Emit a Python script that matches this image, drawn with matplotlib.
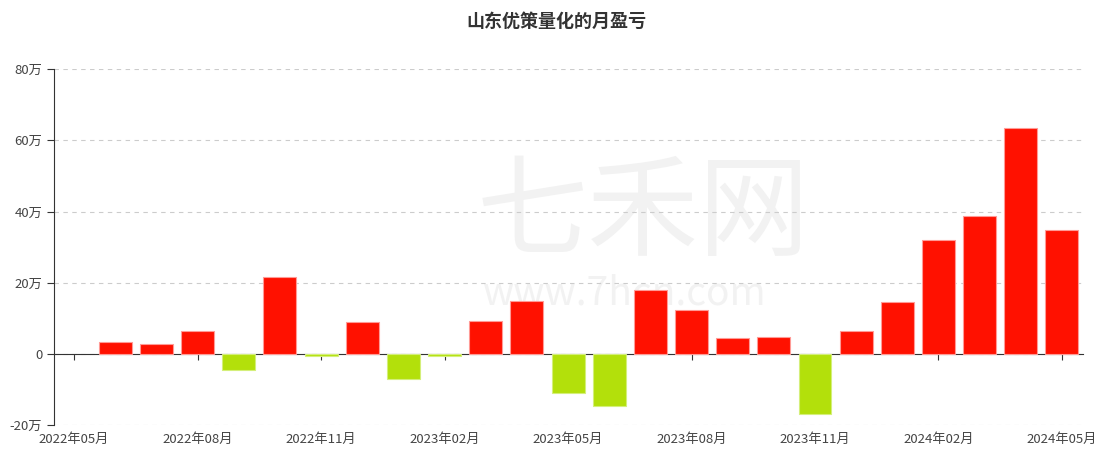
import matplotlib
matplotlib.use("Agg")
import matplotlib.pyplot as plt
import matplotlib.transforms as mtransforms

plt.rcParams['font.family'] = ['Noto Sans CJK SC', 'DejaVu Sans']

# 月份 (2022-05 .. 2024-05)
months = ["2022年05月", "2022年06月", "2022年07月", "2022年08月", "2022年09月",
          "2022年10月", "2022年11月", "2022年12月", "2023年01月", "2023年02月",
          "2023年03月", "2023年04月", "2023年05月", "2023年06月", "2023年07月",
          "2023年08月", "2023年09月", "2023年10月", "2023年11月", "2023年12月",
          "2024年01月", "2024年02月", "2024年03月", "2024年04月", "2024年05月"]
# 月盈亏 (万)
pnl = [0, 3.4, 2.8, 6.5, -4.5, 21.6, -0.6, 9.0, -7.0, -0.5, 9.3, 14.9, -11.0,
       -14.6, 18.0, 12.4, 4.5, 4.8, -16.8, 6.5, 14.6, 32.0, 38.7, 63.4, 34.8]
yticks = [-20, 0, 20, 40, 60, 80]
ytick_labels = ["-20万", "0", "20万", "40万", "60万", "80万"]

x = list(range(len(months)))
colors = ["#ff1100" if v >= 0 else "#b3e00b" for v in pnl]
edges = []
for v in pnl:
    if v == 0:
        edges.append("none")
    elif v > 0:
        edges.append("#ff9b96")
    else:
        edges.append("#d4ef7a")

fig = plt.figure(figsize=(11.13, 4.61), dpi=100)
ax = fig.add_axes([0.0485, 0.078, 0.9245, 0.772])

# 水印
ax.text(0.573, 0.59, "七禾网", transform=ax.transAxes, fontsize=80, color="#f2f2f2",
        ha="center", va="center", zorder=1)
ax.text(0.555, 0.37, "www.7hcn.com", transform=ax.transAxes, fontsize=28, color="#f2f2f2",
        ha="center", va="center", zorder=1)

ax.bar(x, pnl, width=0.8, color=colors, edgecolor=edges, linewidth=0.8, zorder=3)

ax.set_xlim(-0.49, 24.51)
ax.set_ylim(-20, 80)
ax.set_yticks(yticks)
ax.set_yticklabels(ytick_labels)
ax.yaxis.grid(True, linestyle=(0, (4, 4)), color="#cccccc", linewidth=0.8, zorder=0)

for s in ["top", "right"]:
    ax.spines[s].set_visible(False)
ax.spines['left'].set_color("#333333")
ax.spines['bottom'].set_position(('data', 0))
ax.spines['bottom'].set_color("#333333")
ax.spines['bottom'].set_zorder(2)

ax.tick_params(axis='y', colors="#333333", labelsize=9.5, length=5, width=0.8, labelcolor="#444444")
tick_idx = x[::3]
ax.set_xticks(tick_idx)
ax.set_xticklabels([])
ax.tick_params(axis='x', length=4, width=0.8, colors="#333333", direction="out")

trans = mtransforms.blended_transform_factory(ax.transData, ax.transAxes)
for i in tick_idx:
    ax.text(i, -0.04, months[i], transform=trans, ha="center", va="center",
            fontsize=9.5, color="#444444")

fig.suptitle("山东优策量化的月盈亏", fontsize=13, fontweight="bold", color="#333333", y=0.975)

fig.savefig("out.png", dpi=100)
